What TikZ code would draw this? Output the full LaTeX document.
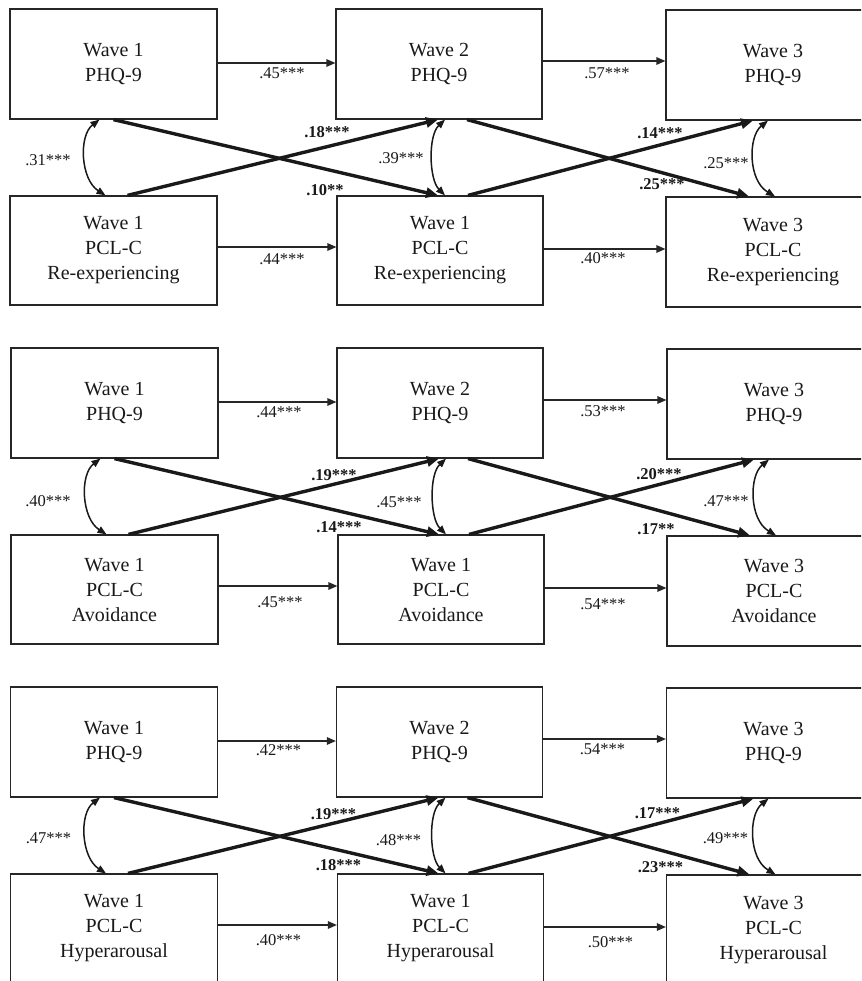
\documentclass[tikz,border=0pt]{standalone}
\usepackage{fontspec}
\setmainfont{Liberation Serif}
\usetikzlibrary{arrows.meta}
\tikzset{
  box/.style={draw=black!85, line width=1.2pt, inner sep=0pt, align=center,
    font=\fontsize{20}{25}\selectfont, text=black!90},
  harrow/.style={draw=black!85, line width=1.3pt, -{Triangle[length=9pt,width=7.5pt]}},
  xarrow/.style={draw=black!90, line width=3.4pt, -{Triangle[length=12pt,width=10pt]}},
  carrow/.style={draw=black!90, line width=1.5pt, {Triangle[length=9pt,width=7pt]}-{Triangle[length=9pt,width=7pt]}},
  lab/.style={inner sep=0pt, anchor=center, text=black!90, font=\fontsize{16.5}{18}\selectfont},
  blab/.style={inner sep=0pt, anchor=center, text=black!90, font=\fontsize{16.5}{18}\selectfont\bfseries},
}
\newcommand\mypanel[2]{%
  \node[box, minimum width=207pt, minimum height=110pt] (A1#1) at (113.5,55) {Wave 1\\PHQ-9};
  \node[box, minimum width=207pt, minimum height=109pt] (B1#1) at (113.5,241.5) {Wave 1\\PCL-C\\#2};
  \node[box, minimum width=206pt, minimum height=110pt] (A2#1) at (439,55) {Wave 2\\PHQ-9};
  \node[box, minimum width=206pt, minimum height=109pt] (B2#1) at (440,241.5) {Wave 1\\PCL-C\\#2};
  \node[box, minimum width=214pt, minimum height=110pt] (A3#1) at (773,56) {Wave 3\\PHQ-9};
  \node[box, minimum width=214pt, minimum height=110pt] (B3#1) at (773,243) {Wave 3\\PCL-C\\#2};
  % autoregressive paths
  \draw[harrow] ([yshift=1pt]A1#1.east) -- ([yshift=1pt]A1#1.east -| A2#1.west);
  \draw[harrow] ([yshift=3pt]A2#1.east) -- ([yshift=3pt]A2#1.east -| A3#1.west);
  \draw[harrow] ([yshift=3.5pt]B1#1.east) -- ([yshift=3.5pt]B1#1.east -| B2#1.west);
  \draw[harrow] ([yshift=1.5pt]B2#1.east) -- ([yshift=1.5pt]B2#1.east -| B3#1.west);
  % cross-lagged paths
  \draw[xarrow] (A1#1.south) -- ([xshift=-2pt]B2#1.north);
  \draw[xarrow] ([xshift=14pt]B1#1.north) -- ([xshift=-1pt]A2#1.south);
  \draw[xarrow] ([xshift=28pt]A2#1.south) -- ([xshift=-24pt]B3#1.north);
  \draw[xarrow] ([xshift=28pt]B2#1.north) -- ([xshift=-20pt]A3#1.south);
  % covariances
  \draw[carrow] ([xshift=-14pt]A1#1.south) .. controls +(-21,16) and +(-25,-16) .. ([xshift=-8pt]B1#1.north);
  \draw[carrow] ([xshift=6pt]A2#1.south) .. controls +(-17,16) and +(-16,-16) .. ([xshift=5pt]B2#1.north);
  \draw[carrow] ([xshift=-5pt]A3#1.south) .. controls +(-20,16) and +(-27,-16) .. ([xshift=2pt]B3#1.north);
}
\begin{document}
\begin{tikzpicture}[x=1pt,y=-1pt]
\useasboundingbox (0,0) rectangle (861,981);
\clip (0,0) rectangle (861,981);
\fill[white] (0,0) rectangle (861,981);

\begin{scope}[yshift=-9pt]
  \mypanel{a}{Re-experiencing}
  \node[lab] (la1) at (282,64) {.45***};
  \node[lab] (la2) at (282,250) {.44***};
  \node[lab] (la3) at (607,64) {.57***};
  \node[lab] (la4) at (603,249) {.40***};
  \node[lab] (la5) at (48,151) {.31***};
  \node[lab] (la6) at (401,149) {.39***};
  \node[lab] (la7) at (726,154) {.25***};
  \node[blab] (la8) at (327,123) {.18***};
  \node[blab] (la9) at (325,181) {.10**};
  \node[blab] (la10) at (660,124) {.14***};
  \node[blab] (la11) at (662,175) {.25***};
\end{scope}

\begin{scope}[yshift=-348pt, xshift=1pt]
  \mypanel{b}{Avoidance}
  \node[lab] (lb1) at (278,64) {.44***};
  \node[lab] (lb2) at (279,254) {.45***};
  \node[lab] (lb3) at (602,63) {.53***};
  \node[lab] (lb4) at (602,256) {.54***};
  \node[lab] (lb5) at (47,153) {.40***};
  \node[lab] (lb6) at (398,154) {.45***};
  \node[lab] (lb7) at (725,153) {.47***};
  \node[blab] (lb8) at (333,127) {.19***};
  \node[blab] (lb9) at (338,179) {.14***};
  \node[blab] (lb10) at (658,126) {.20***};
  \node[blab] (lb11) at (655,181) {.17**};
\end{scope}

\begin{scope}[yshift=-687pt, xshift=0.5pt]
  \mypanel{c}{Hyperarousal}
  \node[lab] (lc1) at (278,63) {.42***};
  \node[lab] (lc2) at (278,253) {.40***};
  \node[lab] (lc3) at (602,62) {.54***};
  \node[lab] (lc4) at (610,255) {.50***};
  \node[lab] (lc5) at (48,151) {.47***};
  \node[lab] (lc6) at (398,153) {.48***};
  \node[lab] (lc7) at (725,151) {.49***};
  \node[blab] (lc8) at (333,127) {.19***};
  \node[blab] (lc9) at (338,178) {.18***};
  \node[blab] (lc10) at (657,126) {.17***};
  \node[blab] (lc11) at (660,180) {.23***};
\end{scope}
\end{tikzpicture}
\end{document}
